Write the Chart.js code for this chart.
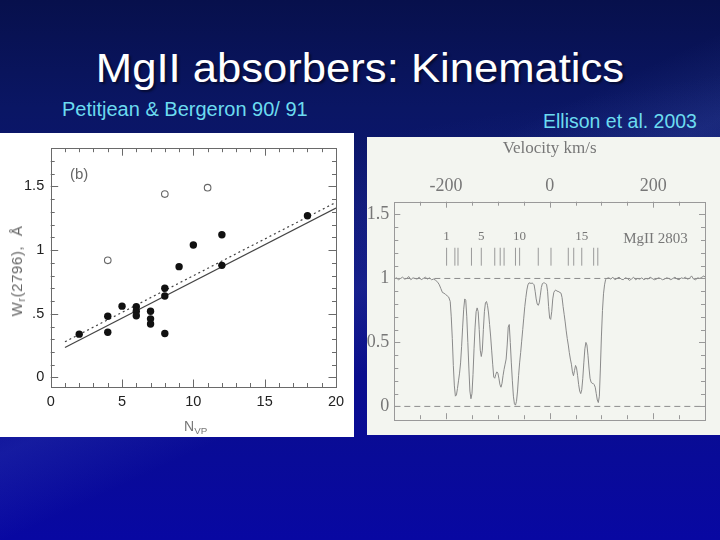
<!DOCTYPE html>
<html><head><meta charset="utf-8">
<script src="https://cdn.jsdelivr.net/npm/chart.js@4.4.0/dist/chart.umd.min.js"></script>
<style>
html,body{margin:0;padding:0;width:720px;height:540px;overflow:hidden;}
body{position:relative;font-family:'Liberation Sans',Arial,sans-serif;
 background:
  linear-gradient(155deg, rgba(255,255,255,0) 42%, rgba(110,140,230,0.12) 52%, rgba(255,255,255,0) 62%),
  linear-gradient(170deg, rgba(255,255,255,0) 30%, rgba(90,120,220,0.08) 40%, rgba(255,255,255,0) 50%),
  linear-gradient(to bottom, #07104c 0%, #0a1664 20%, #0b1476 40%, #0a0e8e 70%, #0808a2 100%);}
.t{position:absolute;white-space:nowrap;}
#title{left:0;width:720px;top:48px;text-align:center;color:#fff;font-size:40px;line-height:40px;
 transform:scaleX(1.09);transform-origin:360px 0;text-shadow:2px 2px 2px rgba(0,0,0,0.45);}
#sub1{left:62px;top:99px;color:#6cdcf0;font-size:20px;line-height:20px;}
#sub2{left:543px;top:111px;color:#6cdcf0;font-size:19.5px;line-height:20px;}
#lp{position:absolute;left:0;top:133px;width:354px;height:304px;background:#fff;}
#rp{position:absolute;left:367px;top:137px;width:353px;height:298px;background:#f3f5f0;}
#c1{position:absolute;left:0;top:133px;}
#c2{position:absolute;left:361px;top:137px;}
#ytitle{left:17px;top:271px;color:#666;font-size:15px;line-height:16px;letter-spacing:0.6px;
 transform:translate(-50%,-50%) rotate(-90deg);}
#xtitle{left:184px;top:418px;color:#777;font-size:14px;line-height:16px;}
sub{font-size:70%;vertical-align:-3px;line-height:0;}
</style></head><body>
<div id="title" class="t">MgII absorbers: Kinematics</div>
<div id="sub1" class="t">Petitjean &amp; Bergeron 90/ 91</div>
<div id="sub2" class="t">Ellison et al. 2003</div>
<div id="lp"></div>
<div id="rp"></div>
<canvas id="c1" width="354" height="304"></canvas>
<canvas id="c2" width="359" height="298"></canvas>
<div id="ytitle" class="t">W<sub>r</sub>(2796),&nbsp; Å</div>
<div id="xtitle" class="t">N<sub>VP</sub></div>
<script>
// ---------- Left panel: Petitjean & Bergeron ----------
const nvpFilled = [2, 4, 4, 5, 6, 6, 6, 7, 7, 7, 8, 8, 8, 9, 10, 12, 12, 18];
const wrFilled  = [0.34, 0.48, 0.355, 0.56, 0.555, 0.52, 0.485, 0.52, 0.46, 0.42, 0.70, 0.64, 0.345, 0.87, 1.04, 1.12, 0.88, 1.27];
const nvpOpen = [4, 8, 11];
const wrOpen  = [0.92, 1.44, 1.49];
const fitX      = [1, 20];
const fitSolid  = [0.235, 1.33];
const fitDotted = [0.28, 1.375];
const leftXMajor = [0, 5, 10, 15, 20];
const leftXLabels = ['0', '5', '10', '15', '20'];
const leftYMajor = [0, 0.5, 1, 1.5];
const leftYLabels = ['0', '.5', '1', '1.5'];
const panelTag = '(b)';

// ---------- Right panel: Ellison et al. 2003 ----------
const specVelocity = [
 -300,-296,-292,-288,-284,-280,-276,-272,-268,-264,-260,-256,-252,-248,-244,-240,-236,-232,-228,-224,-220,
 -216,-213,-210,-207,-204,-201,-198,-195,-192,-190,-188,-186,-184,-182,-180,-178,-176,-174,-172,-170,-168,-166,-164,-162,-160,
 -158,-156,-154,-152,-150,-148,-146,-144,-142,-140,-138,-136,-134,-132,-130,-128,-126,-124,-122,-120,-118,-116,-114,-112,-110,
 -108,-106,-104,-102,-100,-98,-96,-94,-92,-90,-88,-86,-84,-82,-80,-78,-76,-74,-72,-70,-68,-66,-64,-62,-60,
 -58,-56,-54,-52,-50,-48,-46,-44,-42,-40,-38,-36,-34,-32,-30,-28,-26,-24,-22,-20,-18,-16,-14,-12,-10,
 -8,-6,-4,-2,0,2,4,6,8,10,12,14,16,18,20,22,24,26,28,30,32,34,36,38,40,
 42,44,46,48,50,52,54,56,58,60,62,64,66,68,70,72,74,76,78,80,82,84,86,88,90,
 92,94,96,98,100,102,104,106,108,110,
 114,118,122,126,130,134,138,142,146,150,154,158,162,166,170,174,178,182,186,190,194,198,202,206,210,
 214,218,222,226,230,234,238,242,246,250,254,258,262,266,270,274,278,282,286,290,294,298,300];
const specFlux = [
 0.995,1.005,0.99,1.0,1.01,0.995,1.0,1.015,0.99,1.005,1.0,0.995,1.01,0.99,1.0,1.01,0.995,1.005,0.99,0.995,0.985,
 0.97,0.95,0.92,0.89,0.885,0.875,0.865,0.855,0.82,0.70,0.53,0.32,0.16,0.08,0.09,0.14,0.20,0.26,0.34,0.47,0.62,0.76,0.84,0.83,0.70,
 0.50,0.30,0.12,0.06,0.10,0.25,0.45,0.62,0.74,0.77,0.74,0.60,0.44,0.39,0.44,0.60,0.74,0.81,0.82,0.79,0.73,0.64,0.55,0.44,0.33,
 0.23,0.22,0.25,0.27,0.26,0.22,0.17,0.15,0.18,0.24,0.29,0.33,0.37,0.48,0.62,0.64,0.50,0.34,0.20,0.08,0.02,0.01,0.04,0.12,0.24,
 0.34,0.42,0.51,0.60,0.69,0.78,0.85,0.91,0.95,0.965,0.965,0.96,0.965,0.96,0.95,0.90,0.84,0.80,0.79,0.81,0.87,0.93,0.96,0.965,0.965,
 0.96,0.955,0.90,0.78,0.69,0.68,0.74,0.84,0.89,0.905,0.91,0.90,0.90,0.895,0.89,0.885,0.85,0.78,0.72,0.66,0.59,0.53,0.48,0.42,0.37,
 0.33,0.27,0.24,0.28,0.32,0.30,0.24,0.17,0.12,0.10,0.13,0.22,0.34,0.45,0.50,0.48,0.40,0.30,0.22,0.19,0.18,0.18,0.17,0.15,0.10,
 0.05,0.03,0.08,0.30,0.55,0.75,0.88,0.95,0.99,1.0,
 1.005,0.995,1.01,0.99,1.0,1.01,0.995,0.99,1.005,1.0,0.985,0.995,1.01,0.99,1.0,0.995,1.005,0.99,1.0,0.995,1.01,1.0,0.99,0.995,1.005,
 1.0,0.99,0.995,1.005,1.0,0.99,1.0,1.01,0.995,0.99,1.005,1.0,1.01,0.995,1.0,1.02,0.995,0.99,1.005,1.0,1.01,1.02,1.01];
const continuumLevel = [1, 1];
const zeroLevel = [0, 0];
const levelX = [-300, 300];
const componentVelocity = [-199, -183, -177, -151, -132, -106, -95.5, -88, -66, -58, -22, 2.6, 36, 46.5, 62, 85, 93];
const componentTickLow = 1.10, componentTickHigh = 1.24, componentLabelLevel = 1.33;
const componentLabels = {0: '1', 4: '5', 9: '10', 14: '15'};
const lineName = 'MgII 2803';
const rightXMajor = [-200, 0, 200];
const rightXLabels = ['-200', '0', '200'];
const rightYMajor = [0, 0.5, 1, 1.5];
const rightYLabels = ['0', '0.5', '1', '1.5'];

// ---------- helpers ----------
function tickSet(min, max, step, majors, labels) {
  const out = [];
  const start = Math.ceil(min / step - 1e-9);
  for (let k = start; k * step <= max + 1e-9; k++) {
    const v = +(k * step).toFixed(6);
    const i = majors.findIndex(m => Math.abs(m - v) < 1e-6);
    out.push({value: v, label: i >= 0 ? labels[i] : ''});
  }
  return out;
}
function axisTicks(set) {
  return {
    afterBuildTicks: s => { s.ticks = set.map(t => ({value: t.value})); },
    cb: v => { const t = set.find(t => Math.abs(t.value - v) < 1e-6); return t ? t.label : ''; }
  };
}
const frameTicks = {
  id: 'frameTicks',
  afterDatasetsDraw(chart, args, o) {
    const {ctx, chartArea: a} = chart;
    const xs = chart.scales.x, ys = chart.scales.y;
    ctx.save();
    ctx.strokeStyle = o.color; ctx.lineWidth = o.width;
    ctx.beginPath();
    xs.ticks.forEach(t => {
      const p = Math.round(xs.getPixelForValue(t.value)) + 0.5;
      if (p <= a.left + 1 || p >= a.right - 1) return;
      const L = t.label ? o.major : o.minor;
      ctx.moveTo(p, a.bottom); ctx.lineTo(p, a.bottom - L);
      ctx.moveTo(p, a.top); ctx.lineTo(p, a.top + L);
    });
    ys.ticks.forEach(t => {
      const p = Math.round(ys.getPixelForValue(t.value)) + 0.5;
      if (p <= a.top + 1 || p >= a.bottom - 1) return;
      const L = t.label ? o.major : o.minor;
      ctx.moveTo(a.left, p); ctx.lineTo(a.left + L, p);
      ctx.moveTo(a.right, p); ctx.lineTo(a.right - L, p);
    });
    ctx.stroke();
    ctx.strokeRect(Math.round(a.left) + 0.5, Math.round(a.top) + 0.5, Math.round(a.right - a.left), Math.round(a.bottom - a.top));
    ctx.restore();
  }
};
const annot = {
  id: 'annot',
  afterDatasetsDraw(chart, args, o) {
    const {ctx} = chart;
    const xs = chart.scales.x, ys = chart.scales.y;
    ctx.save();
    (o.items || []).forEach(it => {
      ctx.font = it.font; ctx.fillStyle = it.color; ctx.textAlign = it.align; ctx.textBaseline = 'middle';
      ctx.fillText(it.text, xs.getPixelForValue(it.x), ys.getPixelForValue(it.y));
    });
    ctx.restore();
  }
};
Chart.defaults.animation = false;
Chart.defaults.plugins.legend.display = false;
Chart.defaults.plugins.tooltip.enabled = false;

// ---------- Left chart ----------
const lx = axisTicks(tickSet(0, 20, 1, leftXMajor, leftXLabels));
const ly = axisTicks(tickSet(-0.075, 1.8, 0.1, leftYMajor, leftYLabels));
const sansTick = {family: "'Liberation Sans', Arial, sans-serif", size: 14.5};
new Chart(document.getElementById('c1'), {
  type: 'line',
  data: {datasets: [
    {data: nvpFilled.map((x, i) => ({x, y: wrFilled[i]})), showLine: false, pointRadius: 3.7,
     pointBackgroundColor: '#111', pointBorderColor: '#111', pointBorderWidth: 0},
    {data: nvpOpen.map((x, i) => ({x, y: wrOpen[i]})), showLine: false, pointRadius: 3.3,
     pointBackgroundColor: 'rgba(0,0,0,0)', pointBorderColor: '#666', pointBorderWidth: 1.1},
    {data: fitX.map((x, i) => ({x, y: fitSolid[i]})), borderColor: '#444', borderWidth: 1.2, pointRadius: 0},
    {data: fitX.map((x, i) => ({x, y: fitDotted[i]})), borderColor: '#444', borderWidth: 1.2, borderDash: [2, 3], pointRadius: 0}
  ]},
  options: {
    responsive: false, devicePixelRatio: 1,
    layout: {padding: {left: 0, right: 18, top: 4.5, bottom: 0}},
    scales: {
      x: {type: 'linear', min: 0, max: 20, afterBuildTicks: lx.afterBuildTicks,
          afterFit: s => { s.height = 50; },
          grid: {display: false, drawTicks: false}, border: {display: false},
          ticks: {callback: lx.cb, autoSkip: false, maxRotation: 0, padding: 6.6, color: '#222', font: sansTick}},
      y: {type: 'linear', min: -0.075, max: 1.8, afterBuildTicks: ly.afterBuildTicks,
          afterFit: s => { s.width = 50.7; },
          grid: {display: false, drawTicks: false}, border: {display: false},
          ticks: {callback: ly.cb, autoSkip: false, padding: 6.5, color: '#222', font: sansTick}}
    },
    plugins: {
      frameTicks: {color: '#6a6a6a', width: 1, major: 7.5, minor: 4},
      annot: {items: [{text: panelTag, x: 1.35, y: 1.59, align: 'left', color: '#666', font: "15px 'Liberation Sans', Arial, sans-serif"}]}
    }
  },
  plugins: [frameTicks, annot]
});

// ---------- Right chart ----------
const rx = axisTicks(tickSet(-300, 300, 50, rightXMajor, rightXLabels));
const ry = axisTicks(tickSet(-0.1, 1.6, 0.1, rightYMajor, rightYLabels));
const serif = "'Liberation Serif', 'Times New Roman', serif";
const compSegments = [];
componentVelocity.forEach(v => { compSegments.push({x: v, y: componentTickLow}, {x: v, y: componentTickHigh}, {x: v, y: null}); });
const annotItems = Object.keys(componentLabels).map(k => ({text: componentLabels[k], x: componentVelocity[k], y: componentLabelLevel,
  align: 'center', color: '#777', font: '13px ' + serif}));
annotItems.push({text: lineName, x: 142, y: 1.31, align: 'left', color: '#777', font: '15px ' + serif});
new Chart(document.getElementById('c2'), {
  type: 'line',
  data: {datasets: [
    {data: levelX.map((x, i) => ({x, y: continuumLevel[i]})), borderColor: '#8c8c8c', borderWidth: 1, borderDash: [6, 4], pointRadius: 0},
    {data: levelX.map((x, i) => ({x, y: zeroLevel[i]})), borderColor: '#8c8c8c', borderWidth: 1, borderDash: [6, 4], pointRadius: 0},
    {data: specVelocity.map((x, i) => ({x, y: specFlux[i]})), borderColor: '#8a8a8a', borderWidth: 1, pointRadius: 0, tension: 0},
    {data: compSegments, borderColor: '#999', borderWidth: 1, pointRadius: 0, spanGaps: false}
  ]},
  options: {
    responsive: false, devicePixelRatio: 1,
    layout: {padding: {left: 0, right: 15, top: 0, bottom: 8.3}},
    scales: {
      x: {type: 'linear', position: 'top', min: -300, max: 300, afterBuildTicks: rx.afterBuildTicks,
          afterFit: s => { s.height = 64.7; },
          grid: {display: false, drawTicks: false}, border: {display: false},
          title: {display: true, text: 'Velocity km/s', color: '#777', font: {family: serif, size: 17}, padding: {top: 1.6, bottom: 0}},
          ticks: {callback: rx.cb, autoSkip: false, maxRotation: 0, padding: 4.7, color: '#777', font: {family: serif, size: 18}}},
      y: {type: 'linear', min: -0.1, max: 1.6, afterBuildTicks: ry.afterBuildTicks,
          afterFit: s => { s.width = 33.3; },
          grid: {display: false, drawTicks: false}, border: {display: false},
          ticks: {callback: ry.cb, autoSkip: false, padding: 5, color: '#777', font: {family: serif, size: 18}}}
    },
    plugins: {
      frameTicks: {color: '#999', width: 1, major: 6, minor: 4},
      annot: {items: annotItems}
    }
  },
  plugins: [frameTicks, annot]
});
</script>
</body></html>
